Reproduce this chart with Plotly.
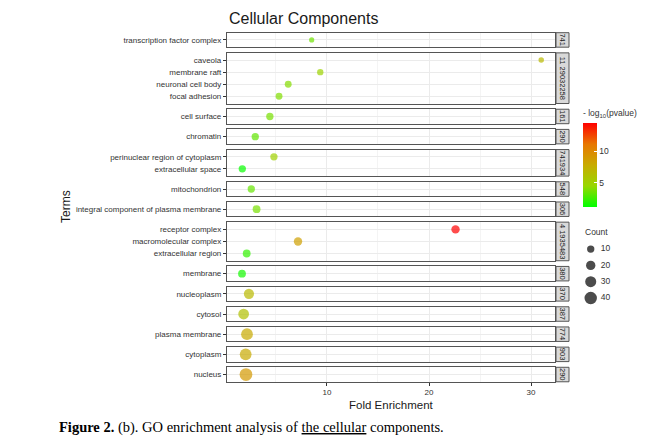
import math
import plotly.graph_objects as go

W, H = 653, 445

# ---------------- data ----------------
terms = [
    "transcription factor complex",
    "caveola", "membrane raft", "neuronal cell body", "focal adhesion",
    "cell surface",
    "chromatin",
    "perinuclear region of cytoplasm", "extracellular space",
    "mitochondrion",
    "integral component of plasma membrane",
    "receptor complex", "macromolecular complex", "extracellular region",
    "membrane",
    "nucleoplasm",
    "cytosol",
    "plasma membrane",
    "cytoplasm",
    "nucleus",
]
facet = [0, 1, 1, 1, 1, 2, 3, 4, 4, 5, 6, 7, 7, 7, 8, 9, 10, 11, 12, 13]
fold_enrichment = [8.5, 31.0, 9.34, 6.2, 5.3, 4.4, 2.97, 4.8, 1.7, 2.58, 3.1,
                   22.6, 7.16, 2.13, 1.67, 2.35, 1.83, 2.16, 2.03, 2.06]
neg_log10_p = [3.6, 6.8, 4.8, 4.1, 4.0, 3.8, 3.3, 5.0, 1.3, 3.4, 3.8,
               14.5, 8.6, 2.3, 1.6, 6.8, 6.2, 7.9, 7.9, 9.0]
counts = [2, 3, 6, 8, 8, 10, 10, 10, 10, 10, 12,
          15, 15, 12, 12, 25, 28, 35, 35, 42]
strip_labels = ["741", "11 29032258", "161", "290", "741934", "548", "306",
                "4 1935483", "380", "370", "387", "774", "903", "290"]
x_ticks = [10, 20, 30]
colorbar_ticks = [5, 10]
legend_counts = [10, 20, 30, 40]

# ---------------- styling helpers ----------------
def dot_size(c):
    return math.sqrt(20 + 3.4 * c)

colorscale = [[0.0, "#00FF00"], [0.25, "#98D700"], [0.5, "#C8AB00"],
              [0.75, "#E87600"], [1.0, "#FF0000"]]
CMIN, CMAX = 1.2, 14.5
FONT = "Arial, Liberation Sans, sans-serif"
TXT = "#333333"
BORDER = "#555555"
GRID = "#ebebeb"

n_panels = len(strip_labels)
panel_terms = [[t for t, f in zip(terms, facet) if f == p] for p in range(n_panels)]

# panel geometry (pixels)
left_px, right_px = 227, 555
top_px, gap_px, unit_px = 32.7, 5.7, 12.06

fig = go.Figure()
layout = dict(
    width=W, height=H, autosize=False,
    margin=dict(l=0, r=0, t=0, b=0),
    paper_bgcolor="white", plot_bgcolor="white",
    showlegend=False,
    font=dict(family=FONT, color=TXT),
)
shapes, annotations = [], []

cur = top_px
for p in range(n_panels):
    n = len(panel_terms[p])
    h = (n + 0.2) * unit_px
    y0_px, y1_px = cur, cur + h
    cur = y1_px + gap_px
    idx = "" if p == 0 else str(p + 1)
    xa, ya = "x" + idx, "y" + idx
    last = p == n_panels - 1

    sel = [i for i, f in enumerate(facet) if f == p]
    fig.add_trace(go.Scatter(
        x=[fold_enrichment[i] for i in sel],
        y=[terms[i] for i in sel],
        mode="markers",
        xaxis=xa, yaxis=ya,
        marker=dict(
            size=[dot_size(counts[i]) for i in sel],
            color=[neg_log10_p[i] for i in sel],
            cmin=CMIN, cmax=CMAX, colorscale=colorscale,
            line=dict(width=0),
            showscale=(p == 0),
            colorbar=dict(
                title=dict(text="- log<sub>10</sub>(pvalue)", side="top",
                           font=dict(size=8.5, color=TXT)),
                x=583 / W, xanchor="left", xref="paper",
                y=1 - 207 / H, yanchor="bottom",
                len=100, lenmode="pixels", thickness=14,
                tickvals=colorbar_ticks, ticks="inside", tickcolor="white",
                ticklen=3, tickfont=dict(size=8.5, color=TXT),
                outlinewidth=0, xpad=0, ypad=0,
            ) if p == 0 else None,
        ),
        hoverinfo="x+y",
    ))

    layout["xaxis" + idx] = dict(
        domain=[left_px / W, right_px / W], anchor=ya,
        range=[0.2, 32.35],
        tickvals=x_ticks,
        showticklabels=last,
        ticks="outside" if last else "", ticklen=3, tickcolor=TXT,
        tickfont=dict(size=8, color=TXT),
        showgrid=True, gridcolor=GRID, gridwidth=1,
        minor=dict(dtick=5, tick0=0, showgrid=True, gridcolor="#f4f4f4", gridwidth=0.6),
        showline=True, mirror=True, linecolor=BORDER, linewidth=1.2,
        zeroline=False,
    )
    if p > 0:
        layout["xaxis" + idx]["matches"] = "x"
    layout["yaxis" + idx] = dict(
        domain=[1 - y1_px / H, 1 - y0_px / H], anchor=xa,
        type="category", categoryorder="array", categoryarray=panel_terms[p],
        range=[n - 0.4, -0.6],
        ticks="outside", ticklen=3, tickcolor=TXT,
        tickfont=dict(size=8, color=TXT),
        showgrid=True, gridcolor=GRID, gridwidth=1,
        showline=True, mirror=True, linecolor=BORDER, linewidth=1.2,
        zeroline=False,
    )
    # facet strip
    shapes.append(dict(type="rect", xref="paper", yref=ya + " domain",
                       x0=556 / W, x1=569 / W, y0=0, y1=1,
                       fillcolor="#d9d9d9", line=dict(color=BORDER, width=1)))
    annotations.append(dict(text=strip_labels[p], xref="paper", yref=ya + " domain",
                            x=562.5 / W, y=0.5, xanchor="center", yanchor="middle",
                            textangle=90, showarrow=False,
                            font=dict(size=7.5, color="#1a1a1a")))

# count size legend on its own hidden axes
li = str(n_panels + 1)
fig.add_trace(go.Scatter(
    x=[0.12] * len(legend_counts), y=list(range(len(legend_counts))),
    mode="markers", xaxis="x" + li, yaxis="y" + li,
    marker=dict(size=[dot_size(c) for c in legend_counts], color="black",
                line=dict(width=0)),
    hoverinfo="skip",
))
fig.add_trace(go.Scatter(
    x=[0.30] * len(legend_counts), y=list(range(len(legend_counts))),
    mode="text", text=[str(c) for c in legend_counts], textposition="middle right",
    textfont=dict(size=8.5, color=TXT),
    xaxis="x" + li, yaxis="y" + li, hoverinfo="skip",
))
layout["xaxis" + li] = dict(domain=[584 / W, 640 / W], range=[0, 1], visible=False,
                            anchor="y" + li)
layout["yaxis" + li] = dict(domain=[1 - 306.2 / H, 1 - 240.9 / H], range=[3.5, -0.5],
                            visible=False, anchor="x" + li)

annotations += [
    dict(text="Cellular Components", xref="paper", yref="paper",
         x=left_px / W, y=1 - 18 / H, xanchor="left", yanchor="middle",
         showarrow=False, font=dict(size=16, color="#1a1a1a")),
    dict(text="Terms", xref="paper", yref="paper", x=66 / W, y=1 - 207 / H,
         xanchor="center", yanchor="middle",
         textangle=-90, showarrow=False, font=dict(size=12, color="#1a1a1a")),
    dict(text="Fold Enrichment", xref="paper", yref="paper", x=391 / W, y=1 - 405 / H,
         xanchor="center", yanchor="middle",
         showarrow=False, font=dict(size=11.5, color="#1a1a1a")),
    dict(text="Count", xref="paper", yref="paper", x=583 / W, y=1 - 232 / H,
         xanchor="left", yanchor="middle", showarrow=False,
         font=dict(size=8.5, color=TXT)),
    dict(text="<b>Figure 2.</b> (b). GO enrichment analysis of <u>the cellular</u> components.",
         xref="paper", yref="paper", x=57 / W, y=1 - 427 / H, xanchor="left",
         yanchor="middle", showarrow=False,
         font=dict(size=14.5, color="black",
                   family="Liberation Serif, Times New Roman, serif")),
]
layout["shapes"] = shapes
layout["annotations"] = annotations
fig.update_layout(**layout)

fig.write_html("out.html")
